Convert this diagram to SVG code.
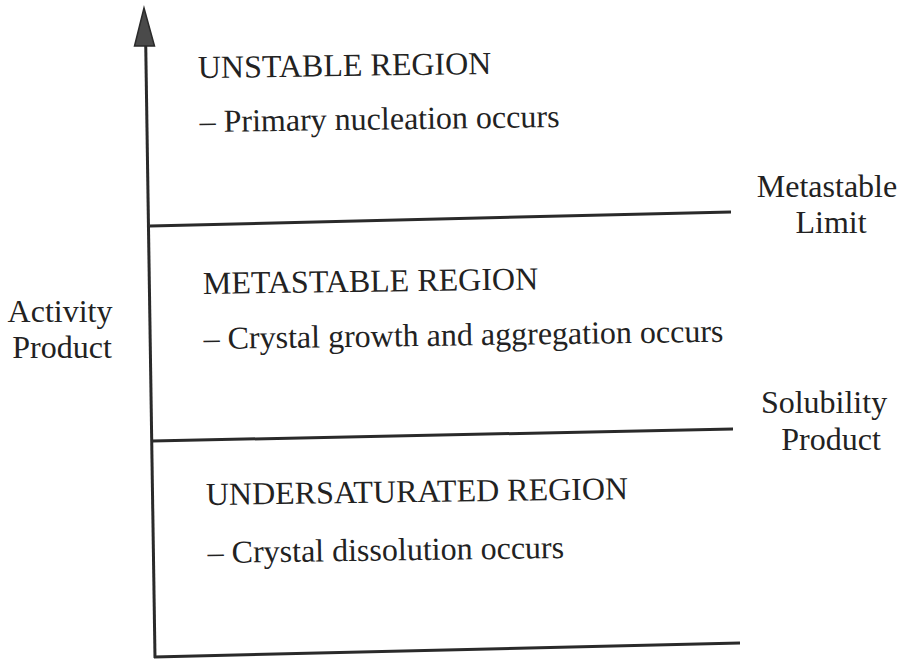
<svg xmlns="http://www.w3.org/2000/svg" width="900" height="659" viewBox="0 0 900 659">
<style>
.ln{stroke:#2a2a2a;stroke-width:3;fill:none;stroke-linecap:butt}
.head{fill:#4a4a4a;stroke:#2a2a2a;stroke-width:1.5;stroke-linejoin:miter}
text{font-family:"Liberation Serif","Times New Roman",serif;font-size:32px;fill:#222}
.c{text-anchor:middle}
</style>
<rect width="900" height="659" fill="#fff"/>
<g id="connectors">
<line id="y-axis" class="ln" x1="155" y1="658" x2="145.5" y2="30"/>
<path id="y-axis-head" class="head" d="M144 8 L154.5 46 L134.5 46 Z"/>
<line id="x-axis" class="ln" x1="154" y1="657" x2="740" y2="643"/>
<line id="metastable-limit" class="ln" x1="150" y1="226" x2="731" y2="212"/>
<line id="solubility-product" class="ln" x1="152" y1="441" x2="733" y2="429"/>
</g>
<g id="unstable-region" transform="rotate(-0.8 200 77)">
<text x="198" y="78">UNSTABLE REGION</text>
<text x="199" y="132">– Primary nucleation occurs</text>
</g>
<g id="metastable-region" transform="rotate(-0.8 203 294)">
<text x="203" y="294">METASTABLE REGION</text>
<text x="203" y="349">– Crystal growth and aggregation occurs</text>
</g>
<g id="undersaturated-region" transform="rotate(-0.8 206 505)">
<text x="206" y="505">UNDERSATURATED REGION</text>
<text x="207" y="563">– Crystal dissolution occurs</text>
</g>
<g id="label-metastable-limit">
<text class="c" x="827" y="197">Metastable</text>
<text class="c" x="831" y="233">Limit</text>
</g>
<g id="label-solubility-product">
<text class="c" x="824" y="413">Solubility</text>
<text class="c" x="831" y="450">Product</text>
</g>
<g id="label-activity-product">
<text class="c" x="60" y="322">Activity</text>
<text class="c" x="62" y="358">Product</text>
</g>
</svg>
